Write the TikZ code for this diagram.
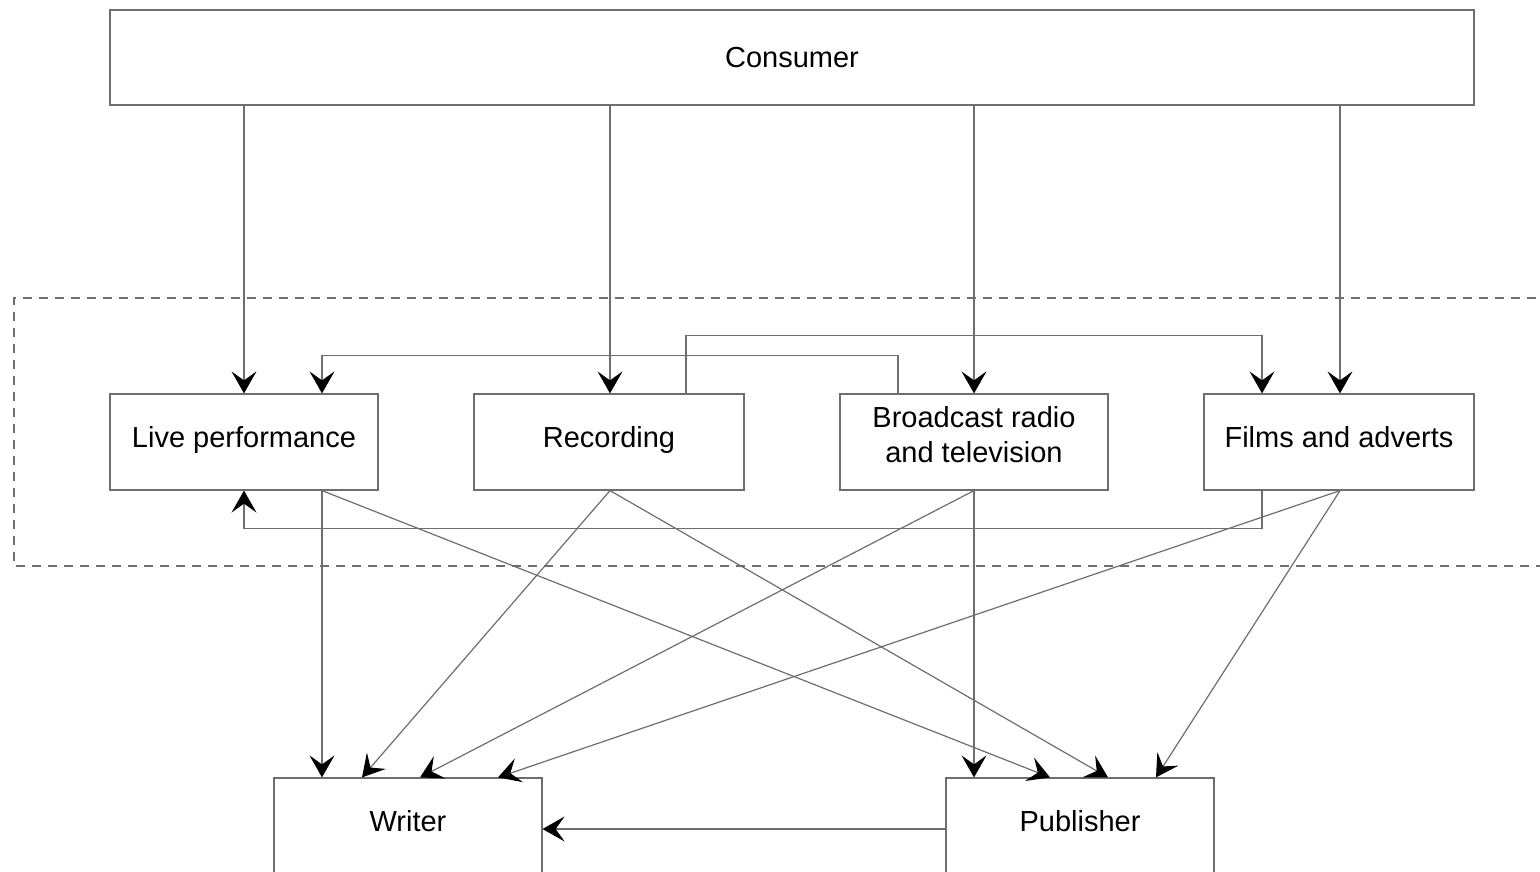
\documentclass[tikz,border=0pt]{standalone}
\usepackage{fontspec}
\setmainfont{Liberation Sans}
\usetikzlibrary{arrows.meta}
\definecolor{ln}{RGB}{110,110,110}
\begin{document}
\begin{tikzpicture}[x=1pt,y=-1pt,
  box/.style={draw=ln, line width=1.2pt, rectangle, inner sep=0pt,
    minimum height=96pt, font=\fontsize{29}{35}\selectfont},
  rowtext/.style={text height=21pt, text depth=10pt},
  bottext/.style={text height=21pt, text depth=16pt},
  arr/.style={draw=ln, line width=1.2pt, -{Stealth[length=22pt,width=25pt,inset=9pt,color=black]}},
  dash box/.style={draw=ln, line width=1.2pt, dash pattern=on 9pt off 7pt}]
\clip (0,0) rectangle (1540,872);
\useasboundingbox (0,0) rectangle (1540,872);
\fill[white] (0,0) rectangle (1540,872);
\draw[dash box] (1600,298) -- (14,298) -- (14,566) -- (1600,566);
\node[box, minimum width=1364pt, minimum height=95pt] (Consumer) at (792,57.5) {Consumer};
\node[box, rowtext, minimum width=268pt] (Live) at (244,442) {Live performance};
\node[box, rowtext, minimum width=270pt] (Recording) at (609,442) {Recording};
\node[box, align=center, minimum width=268pt] (Broadcast) at (974,442) {Broadcast radio\\and television\rule[-16pt]{0pt}{16pt}};
\node[box, rowtext, minimum width=270pt] (Films) at (1339,442) {Films and adverts};
\node[box, bottext, minimum width=268pt, minimum height=102pt] (Writer) at (408,829) {Writer};
\node[box, bottext, minimum width=268pt, minimum height=102pt] (Publisher) at (1080,829) {Publisher};
% consumer arrows
\draw[arr] (Consumer.south -| Live.north) -- (Live.north);
\draw[arr] ([xshift=1pt]Consumer.south -| Recording.north) -- ([xshift=1pt]Recording.north);
\draw[arr] (Consumer.south -| Broadcast.north) -- (Broadcast.north);
\draw[arr] ([xshift=1pt]Consumer.south -| Films.north) -- ([xshift=1pt]Films.north);
% cross links
\draw[arr] ([xshift=77pt]Recording.north) -- ++(0,-58) -| ([xshift=-77pt]Films.north);
\draw[arr] ([xshift=-76pt]Broadcast.north) -- ++(0,-38) -| ([xshift=78pt]Live.north);
\draw[arr] ([xshift=-77pt]Films.south) -- ++(0,38) -| (Live.south);
% to writer / publisher
\draw[arr] ([xshift=78pt]Live.south) -- ([xshift=-86pt]Writer.north);
\draw[arr] ([xshift=78pt]Live.south) -- ([xshift=-30pt]Publisher.north);
\draw[arr] ([xshift=1pt]Recording.south) -- ([xshift=-46pt]Writer.north);
\draw[arr] ([xshift=1pt]Recording.south) -- ([xshift=28pt]Publisher.north);
\draw[arr] (Broadcast.south) -- ([xshift=12pt]Writer.north);
\draw[arr] (Broadcast.south) -- ([xshift=-106pt]Publisher.north);
\draw[arr] ([xshift=1pt]Films.south) -- ([xshift=90pt]Writer.north);
\draw[arr] ([xshift=1pt]Films.south) -- ([xshift=76pt]Publisher.north);
\draw[arr] (Publisher.west) -- (Publisher.west -| Writer.east);
\end{tikzpicture}
\end{document}
